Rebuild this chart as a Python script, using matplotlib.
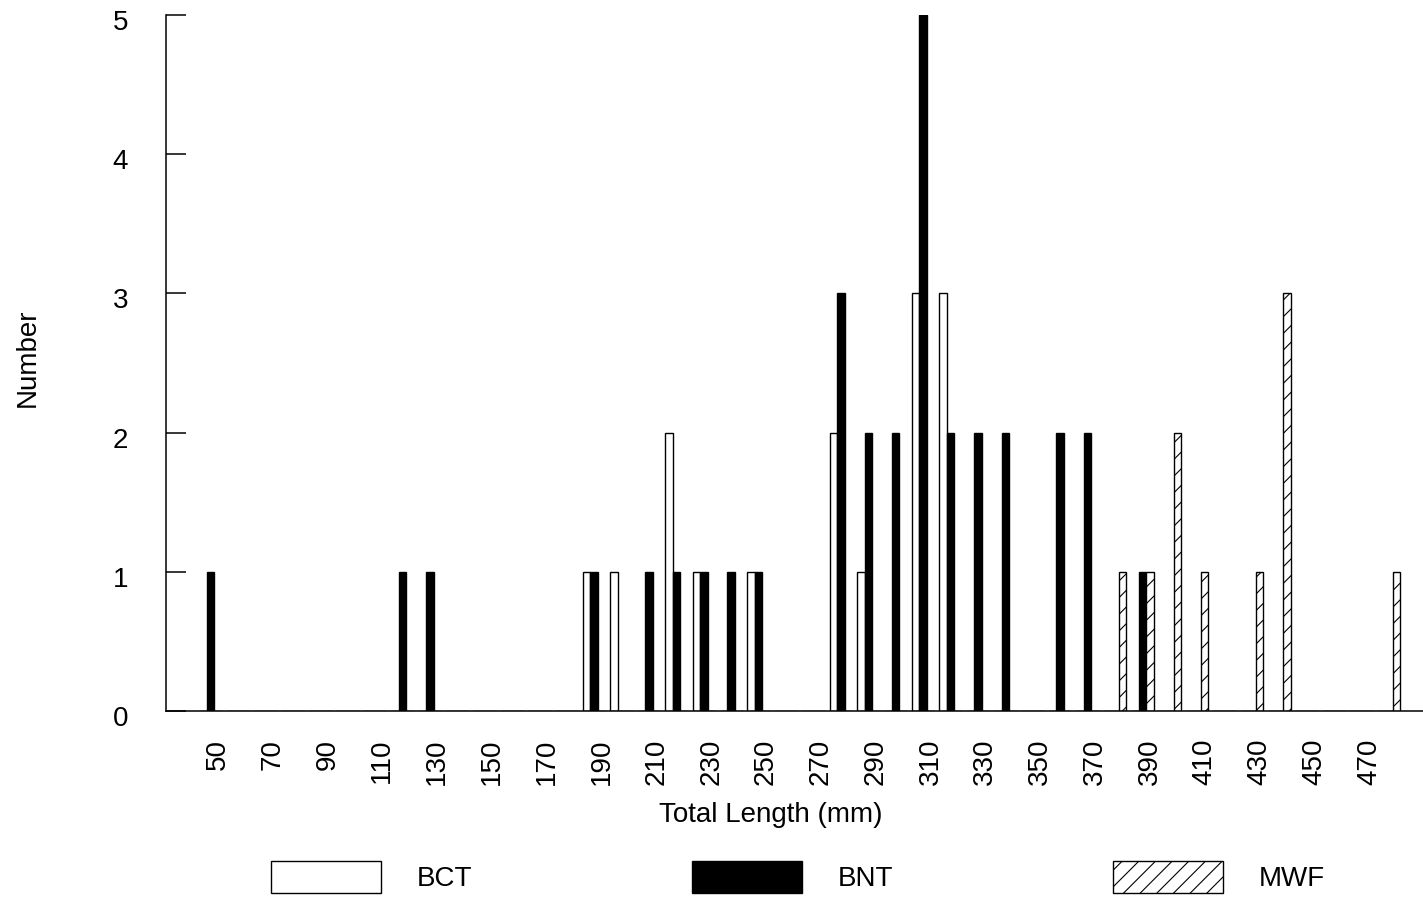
import matplotlib
matplotlib.use("Agg")
import matplotlib.pyplot as plt
import matplotlib.transforms as mtransforms
import numpy as np

plt.rcParams['font.family'] = ['Liberation Sans', 'DejaVu Sans']
plt.rcParams['hatch.linewidth'] = 0.8

# ---- data ----
lengths = list(range(50, 490, 10))  # 50 .. 480 mm size classes
bct = [0, 0, 0, 0, 0, 0, 0, 0, 0, 0, 0, 0, 0, 0,
       1, 1, 0, 2, 1, 0, 1, 0, 0, 2, 1, 0, 3, 3,
       0, 0, 0, 0, 0, 0, 0, 0, 0, 0, 0, 0, 0, 0, 0, 0]
bnt = [1, 0, 0, 0, 0, 0, 0, 1, 1, 0, 0, 0, 0, 0,
       1, 0, 1, 1, 1, 1, 1, 0, 0, 3, 2, 2, 5, 2,
       2, 2, 0, 2, 2, 0, 1, 0, 0, 0, 0, 0, 0, 0, 0, 0]
mwf = [0, 0, 0, 0, 0, 0, 0, 0, 0, 0, 0, 0, 0, 0,
       0, 0, 0, 0, 0, 0, 0, 0, 0, 0, 0, 0, 0, 0,
       0, 0, 0, 0, 0, 1, 1, 2, 1, 0, 1, 3, 0, 0, 0, 1]
tick_values = list(range(50, 480, 20))
series_names = ['BCT', 'BNT', 'MWF']

W, H = 1423, 898
fig = plt.figure(figsize=(W / 100, H / 100), dpi=100)
ax = fig.add_axes([166 / W, 1 - 711 / H, (1423 - 166) / W, (711 - 15) / H])

x = np.arange(len(lengths))
bw = 0.275
lw = 1.0
b1 = ax.bar(x - bw, bct, width=bw, color='white', edgecolor='black', linewidth=lw, label=series_names[0])
b2 = ax.bar(x, bnt, width=bw, color='black', edgecolor='black', linewidth=lw, label=series_names[1])
b3 = ax.bar(x + bw, mwf, width=bw, color='white', edgecolor='black', linewidth=lw, hatch='//', label=series_names[2])

ax.set_xlim(-1.624, 44.24)
ax.set_ylim(0, 5)

for s in ['top', 'right']:
    ax.spines[s].set_visible(False)
for s in ['left', 'bottom']:
    ax.spines[s].set_linewidth(1.1)

# y axis
ax.set_yticks(range(0, 6))
ax.set_yticklabels([str(v) for v in range(0, 6)])
ax.tick_params(axis='y', direction='in', length=14.5, width=1.1, pad=27.4, labelsize=20)
offset = mtransforms.ScaledTranslation(0, -5 / 100, fig.dpi_scale_trans)
for lab in ax.get_yticklabels():
    lab.set_transform(lab.get_transform() + offset)

# x axis
tick_pos = [lengths.index(v) + 0.27 for v in tick_values]
ax.set_xticks(tick_pos)
ax.set_xticklabels([str(v) for v in tick_values], rotation=90, va='top')
ax.tick_params(axis='x', length=0, pad=20, labelsize=20)

ax.set_xlabel('Total Length (mm)', fontsize=20, va='center')
ax.xaxis.set_label_coords((771 - 166) / 1257, (711 - 815) / 696)
ax.set_ylabel('Number', fontsize=20, va='center')
ax.yaxis.set_label_coords((28 - 166) / 1257, (711 - 358) / 696)

fig.legend(handles=[b1, b2, b3], labels=series_names, loc='center',
           bbox_to_anchor=(798 / W, 1 - 877 / H), ncol=3, frameon=False,
           fontsize=20, handlelength=3.95, handleheight=1.36, handletextpad=1.3,
           columnspacing=7.9, borderpad=0.1)

fig.savefig('out.png', dpi=100)
